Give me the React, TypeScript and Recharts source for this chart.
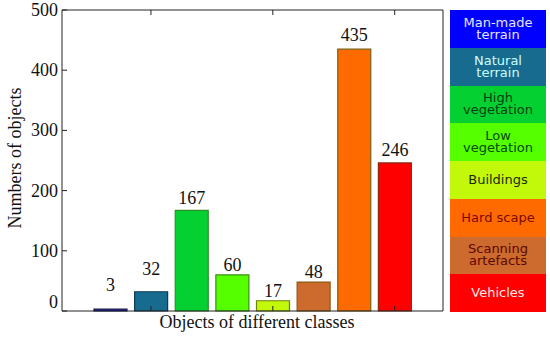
import { BarChart, Bar, XAxis, YAxis, Cell, LabelList } from 'recharts';

const classNames = [
  'Man-made terrain',
  'Natural terrain',
  'High vegetation',
  'Low vegetation',
  'Buildings',
  'Hard scape',
  'Scanning artefacts',
  'Vehicles',
];
// bars in plot order (scanning artefacts comes before hard scape in the plot)
const barNames = [
  'Man-made terrain',
  'Natural terrain',
  'High vegetation',
  'Low vegetation',
  'Buildings',
  'Scanning artefacts',
  'Hard scape',
  'Vehicles',
];
const objectCounts = [3, 32, 167, 60, 17, 48, 435, 246];
const yTicks = [0, 100, 200, 300, 400, 500];

const classFill: Record<string, string> = {
  'Man-made terrain': '#0000ff',
  'Natural terrain': '#166b8f',
  'High vegetation': '#04d131',
  'Low vegetation': '#55ff00',
  'Buildings': '#c2f80a',
  'Hard scape': '#ff6a00',
  'Scanning artefacts': '#cd6a2d',
  'Vehicles': '#ff0000',
};
const classStroke: Record<string, string> = {
  'Man-made terrain': '#1a1a40',
  'Natural terrain': '#0c3a55',
  'High vegetation': '#2f8f2a',
  'Low vegetation': '#3a8f10',
  'Buildings': '#6f7f10',
  'Hard scape': '#7a6010',
  'Scanning artefacts': '#8a5a10',
  'Vehicles': '#8a2a10',
};
const legendText = ['#e6e6ff', '#ccffff', '#00400c', '#004a00', '#1c2a00', '#7a0800', '#5a0800', '#ffe6e6'];
// gap between bar top and label centre, px
const labelGap = [24, 23, 12, 10, 10, 10, 14, 13];

const data = barNames.map((name, i) => ({ name, value: objectCounts[i] }));

const serif = '"Liberation Serif", "Times New Roman", serif';
const axisColor = '#222';

// draws nothing, but keeps the tick lines
const NoTick = () => <g />;

const YTick = (props: any) => {
  const { x, y, payload } = props;
  const dy = payload.value === 0 ? -9 : 0;
  return (
    <text x={x} y={y + dy} textAnchor="end" dominantBaseline="central" fontFamily={serif} fontSize={18} fill="#111">
      {payload.value}
    </text>
  );
};

const ValueLabel = (props: any) => {
  const { x, y, width, value, index } = props;
  return (
    <text
      x={x + width / 2}
      y={y - labelGap[index]}
      textAnchor="middle"
      dominantBaseline="central"
      fontFamily={serif}
      fontSize={18}
      fill="#111"
    >
      {value}
    </text>
  );
};

const App = () => {
  return (
    <div style={{ position: 'absolute', left: 0, top: 0, width: 550, height: 337, background: '#fff' }}>
      <BarChart width={550} height={337} data={data} margin={{ top: 0, right: 0, bottom: 0, left: 0 }} barSize={33}>
        <XAxis
          dataKey="name"
          height={26}
          tick={NoTick}
          tickSize={-5}
          tickLine={{ stroke: axisColor }}
          stroke={axisColor}
          padding={{ left: 28, right: 28 }}
          label={{
            content: () => (
              <text x={257} y={322} textAnchor="middle" dominantBaseline="central" fontFamily={serif} fontSize={18} fill="#111">
                Objects of different classes
              </text>
            ),
          }}
        />
        <XAxis
          xAxisId="top"
          orientation="top"
          dataKey="name"
          height={10}
          tick={NoTick}
          tickSize={-5}
          tickLine={{ stroke: axisColor }}
          stroke={axisColor}
          padding={{ left: 28, right: 28 }}
        />
        <YAxis
          width={62}
          domain={[0, 500]}
          ticks={yTicks}
          tick={<YTick />}
          tickSize={-5}
          tickMargin={9}
          tickLine={{ stroke: axisColor }}
          stroke={axisColor}
          label={{
            content: () => (
              <text
                x={15}
                y={158}
                transform="rotate(-90 15 158)"
                textAnchor="middle"
                dominantBaseline="central"
                fontFamily={serif}
                fontSize={18}
                fill="#111"
              >
                Numbers of objects
              </text>
            ),
          }}
        />
        <YAxis
          yAxisId="right"
          orientation="right"
          width={107}
          domain={[0, 500]}
          ticks={yTicks}
          tick={NoTick}
          tickSize={-5}
          tickLine={{ stroke: axisColor }}
          stroke={axisColor}
        />
        <Bar dataKey="value" isAnimationActive={false} strokeWidth={1.2}>
          {data.map((d) => (
            <Cell key={d.name} fill={classFill[d.name]} stroke={classStroke[d.name]} />
          ))}
          <LabelList dataKey="value" content={<ValueLabel />} />
        </Bar>
      </BarChart>
      <div
        style={{
          position: 'absolute',
          left: 450,
          top: 10,
          width: 96,
          height: 302,
          display: 'flex',
          flexDirection: 'column',
          fontFamily: '"DejaVu Sans", Verdana, sans-serif',
          fontSize: 13,
          lineHeight: '12px',
        }}
      >
        {classNames.map((name, i) => (
          <div
            key={name}
            style={{
              flex: 1,
              background: classFill[name],
              color: legendText[i],
              display: 'flex',
              alignItems: 'center',
              justifyContent: 'center',
              textAlign: 'center',
              padding: '0 6px',
            }}
          >
            {name}
          </div>
        ))}
      </div>
    </div>
  );
};

export default App;
